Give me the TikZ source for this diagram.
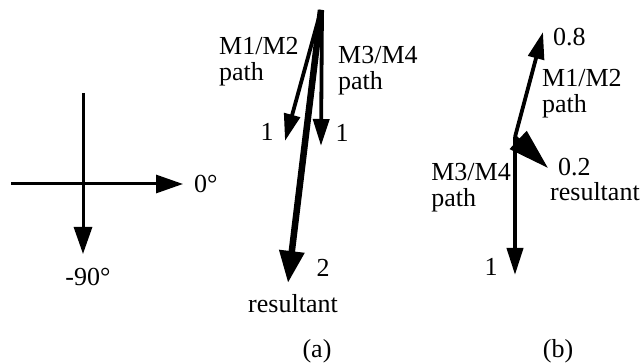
\documentclass[tikz,border=0pt]{standalone}
\usepackage{fontspec}
\setmainfont{Liberation Serif}
\usetikzlibrary{arrows.meta}
\begin{document}
\begin{tikzpicture}[x=1pt,y=-1pt,
  lbl/.style={font=\fontsize{26}{26}\selectfont, inner sep=0pt},
  axis/.style={line width=3pt, -{Triangle[length=27pt,width=18pt]}},
  vec/.style={line width=3.8pt, -{Triangle[length=27pt,width=16pt]}},
  bigvec/.style={line width=6.5pt, -{Triangle[length=32pt,width=24pt]}},
  resvec/.style={line width=4pt, -{Triangle[length=41pt,width=24pt]}}]
\useasboundingbox (0,0) rectangle (643,363);

% phase reference axes
\coordinate (hL) at (11,184);
\coordinate (hR) at (183,184);
\coordinate (vT) at (83,93);
\coordinate (vB) at (83,254);
\draw[line width=3pt] (hL) -- (vT |- hL);
\draw[axis] (vT |- hL) -- (hR);
\draw[line width=3pt] (vT) -- (vT |- hL);
\draw[axis] (vT |- hL) -- (vB);
\node[lbl, anchor=base west] (zero) at (194,193) {0°};
\node[lbl, anchor=base] (minus) at (88,286) {-90°};

% (a) in-phase paths
\coordinate (apex) at (321,10);
\coordinate (ta) at (285,141);
\coordinate (tb) at (321,146);
\coordinate (tr) at (288,283);
\draw[bigvec] (apex) -- (tr);
\draw[vec] (apex) -- (ta);
\draw[vec] ([xshift=1pt]apex) -- (tb);
\node[lbl, anchor=base west, align=left] (m12a) at (219,81) {M1/M2\\path};
\node[lbl, anchor=base west, align=left] (m34a) at (338,90) {M3/M4\\path};
\node[lbl, anchor=base] (oneL) at (267,141) {1};
\node[lbl, anchor=base] (oneR) at (342,142) {1};
\node[lbl, anchor=base] (two) at (323,277) {2};
\node[lbl, anchor=base] (resa) at (293,313) {resultant};
\node[lbl, anchor=base] (capa) at (317,358) {(a)};

% (b) opposing paths
\coordinate (orig) at (515,137);
\coordinate (tu) at (543,32);
\coordinate (td) at (515,275);
\coordinate (tres) at (548,168);
\draw[vec] (orig) -- (tu);
\draw[vec] (orig) -- (td);
\draw[resvec] (orig) -- (tres);
\node[lbl, anchor=base west] (p8) at (553,46) {0.8};
\node[lbl, anchor=base west, align=left] (m12b) at (542,113) {M1/M2\\path};
\node[lbl, anchor=base east, align=left] (m34b) at (511,207) {M3/M4\\path};
\node[lbl, anchor=base west] (p2) at (558,176) {0.2};
\node[lbl, anchor=base west] (resb) at (550,201) {resultant};
\node[lbl, anchor=base] (oneB) at (491,276) {1};
\node[lbl, anchor=base] (capb) at (558,358) {(b)};
\end{tikzpicture}
\end{document}
